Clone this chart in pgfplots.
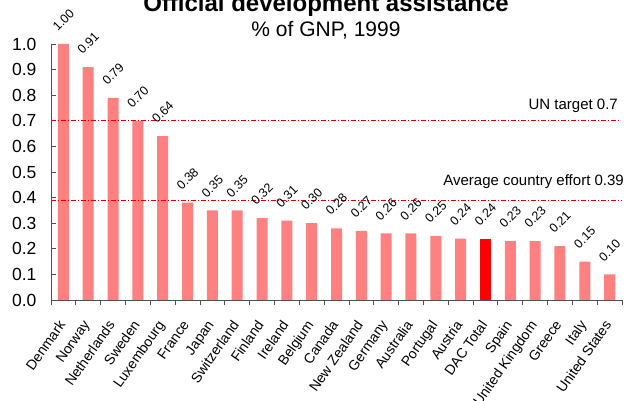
\documentclass[border=0pt]{standalone}
\usepackage{fontspec}
\setmainfont{Liberation Sans}
\usepackage{pgfplots}
\pgfplotsset{compat=1.18}
\definecolor{barpink}{HTML}{FF8080}
\definecolor{dacred}{HTML}{FF0000}
\definecolor{axisgray}{HTML}{505050}

\begin{document}
\begin{tikzpicture}[x=1pt,y=1pt]
\begin{axis}[
  at={(51pt,101pt)}, anchor=south west,
  scale only axis, width=571pt, height=256pt,
  xmin=-0.5, xmax=22.5, ymin=0, ymax=1,
  ybar, bar width=11pt, bar shift=0pt,
  clip=false,
  axis lines*=left,
  axis line style={axisgray, line width=0.8pt},
  /pgf/number format/assume math mode=true,
  ytick={0,0.1,0.2,0.3,0.4,0.5,0.6,0.7,0.8,0.9,1.0},
  yticklabel style={font=\fontsize{17.5}{20}\selectfont, xshift=-11pt,
    /pgf/number format/.cd, fixed, fixed zerofill, precision=1},
  ytick align=inside,
  xtick={0,...,22},
  xticklabels={Denmark, Norway, Netherlands, Sweden, Luxembourg, France, Japan,
    Switzerland, Finland, Ireland, Belgium, Canada, New Zealand, Germany,
    Australia, Portugal, Austria, DAC Total, Spain, United Kingdom, Greece,
    Italy, United States},
  xticklabel style={font=\fontsize{14}{16}\selectfont, anchor=north east,
    inner sep=0pt, yshift=-14pt, xshift=-6pt, rotate=55},
  major x tick style={draw=none},
  minor xtick={-0.5,0.5,...,22.5},
  xtick align=outside,
  major tick length=5pt, minor tick length=5pt,
  every tick/.style={axisgray, line width=0.8pt},
  every node near coord/.append style={font=\fontsize{12.5}{14}\selectfont,
    anchor=center, yshift=24pt, rotate=45},
]
\addplot[fill=barpink, draw=none,
  nodes near coords={\pgfmathprintnumber[fixed,fixed zerofill,precision=2]{\pgfplotspointmeta}}]
  coordinates {
  (0,1.00) (1,0.91) (2,0.79) (3,0.70) (4,0.64) (5,0.38) (6,0.35) (7,0.35)
  (8,0.32) (9,0.31) (10,0.30) (11,0.28) (12,0.27) (13,0.26) (14,0.26)
  (15,0.25) (16,0.24) (18,0.23) (19,0.23) (20,0.21) (21,0.15) (22,0.10)
};
\addplot[fill=dacred, draw=none,
  nodes near coords={\pgfmathprintnumber[fixed,fixed zerofill,precision=2]{\pgfplotspointmeta}}]
  coordinates {(17,0.24)};
\addplot[sharp plot, red!85!black, line width=0.7pt,
  dash pattern=on 5pt off 2pt on 1pt off 2pt, forget plot]
  coordinates {(-0.5,0.7) (22.4,0.7)};
\addplot[sharp plot, red!85!black, line width=0.7pt,
  dash pattern=on 5pt off 2pt on 1pt off 2pt, forget plot]
  coordinates {(-0.5,0.39) (22.5,0.39)};
\node[anchor=base east, inner sep=0pt, yshift=11.5pt, font=\fontsize{15}{17}\selectfont]
  at (axis cs:22.34,0.7) {UN target 0.7};
\node[anchor=base east, inner sep=0pt, yshift=15pt, font=\fontsize{15}{17}\selectfont]
  at (axis cs:22.58,0.39) {Average country effort 0.39};
\end{axis}
\node[anchor=base, font=\bfseries\fontsize{24}{28}\selectfont] at (326,389)
  {Official development assistance};
\node[anchor=base, font=\fontsize{21}{24}\selectfont] at (326,364)
  {\% of GNP, 1999};
\pgfresetboundingbox
\useasboundingbox (0,0) rectangle (627,401);
\end{tikzpicture}
\end{document}
